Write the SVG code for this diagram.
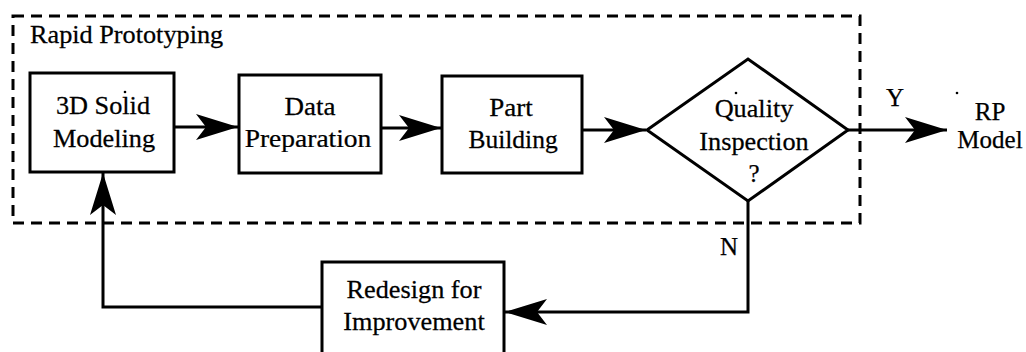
<svg xmlns="http://www.w3.org/2000/svg" width="1026" height="352" viewBox="0 0 1026 352">
  <style>
    .box { fill: #fff; stroke: #000; stroke-width: 3; }
    .wire { fill: none; stroke: #000; stroke-width: 3; }
    .frame { fill: none; stroke: #000; stroke-width: 3; stroke-dasharray: 11 7; }
    text { font-family: 'Liberation Serif', 'Times New Roman', serif; font-size: 25px; fill: #000; stroke: #000; stroke-width: 0.25; }
    .t { text-anchor: middle; }
    .speck { fill: #000; }
  </style>
  <defs>
    <marker id="head" viewBox="-43 -14 43 28" refX="0" refY="0" markerWidth="43" markerHeight="28" markerUnits="userSpaceOnUse" orient="auto">
      <path d="M0,0 L-42,-13 L-32,0 L-42,13 Z" fill="#000"/>
    </marker>
  </defs>
  <rect width="1026" height="352" fill="#fff"/>

  <!-- dashed process boundary -->
  <g id="rp-frame">
    <rect class="frame" x="13" y="16" width="847" height="207"/>
    <text transform="translate(30,43) scale(1.05,1)">Rapid Prototyping</text>
  </g>

  <!-- connectors -->
  <g id="connectors">
    <line class="wire" x1="174" y1="127" x2="238" y2="127" marker-end="url(#head)"/>
    <line class="wire" x1="381" y1="128" x2="441" y2="128" marker-end="url(#head)"/>
    <line class="wire" x1="582" y1="130" x2="646" y2="130" marker-end="url(#head)"/>
    <line class="wire" x1="848" y1="130" x2="947" y2="130" marker-end="url(#head)"/>
    <polyline class="wire" points="748,201 748,312 505,312" marker-end="url(#head)"/>
    <polyline class="wire" points="322,307 103,307 103,173" marker-end="url(#head)"/>
    <text class="t" x="895" y="106">Y</text>
    <text class="t" x="729" y="255" font-size="22">N</text>
  </g>

  <g id="solid-modeling">
    <rect class="box" x="30" y="73" width="144" height="99"/>
    <text class="t" transform="translate(103,114) scale(1.05,1)">3D Solid</text>
    <text class="t" transform="translate(104,147) scale(1.05,1)">Modeling</text>
    <circle class="speck" cx="125" cy="92" r="1.3"/>
  </g>

  <g id="data-preparation">
    <rect class="box" x="239" y="75" width="142" height="98"/>
    <text class="t" transform="translate(310,115) scale(1.08,1)">Data</text>
    <text class="t" transform="translate(308,147) scale(1.1,1)">Preparation</text>
  </g>

  <g id="part-building">
    <rect class="box" x="442" y="76" width="140" height="97"/>
    <text class="t" transform="translate(511,116) scale(1.08,1)">Part</text>
    <text class="t" transform="translate(513,148) scale(1.02,1)">Building</text>
  </g>

  <g id="quality-inspection">
    <polygon class="box" points="647,130 748,59 848,130 748,201"/>
    <text class="t" transform="translate(754,117) scale(1.05,1)">Quality</text>
    <text class="t" transform="translate(754,150) scale(1.05,1)">Inspection</text>
    <text class="t" x="754" y="182">?</text>
    <circle class="speck" cx="736" cy="93" r="1.3"/>
  </g>

  <g id="rp-model">
    <text class="t" x="990" y="120">RP</text>
    <text class="t" x="990" y="148">Model</text>
    <circle class="speck" cx="957" cy="93" r="1.3"/>
  </g>

  <g id="redesign">
    <rect class="box" x="322" y="262" width="182" height="96"/>
    <text class="t" transform="translate(414,298) scale(1.05,1)">Redesign for</text>
    <text class="t" transform="translate(414,330) scale(1.05,1)">Improvement</text>
  </g>
</svg>
